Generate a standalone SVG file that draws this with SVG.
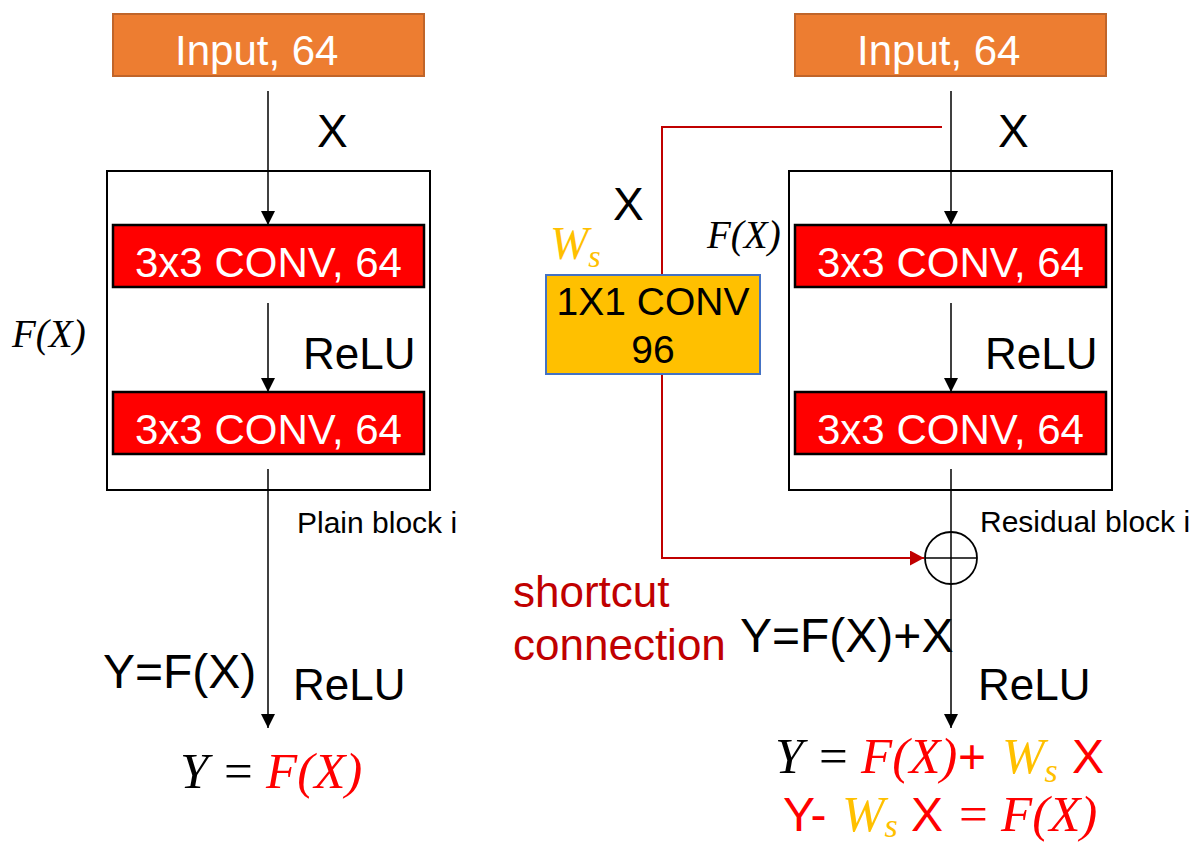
<svg xmlns="http://www.w3.org/2000/svg" width="1202" height="842" viewBox="0 0 1202 842">
<defs>
<style>
.sans{font-family:"Liberation Sans",Arial,sans-serif}
.math{font-family:"Liberation Serif","Times New Roman",serif;font-style:italic}
.mathup{font-family:"Liberation Serif","Times New Roman",serif}
.input{fill:#ED7D31;stroke:#C0652A;stroke-width:2}
.conv{fill:#FF0000;stroke:#000;stroke-width:2.5}
.outer{fill:none;stroke:#000;stroke-width:2}
.wtxt{fill:#fff;font-size:42px}
.line{stroke:#000;stroke-width:1.5;fill:none}
.red{stroke:#C00000;stroke-width:2;fill:none}
</style>
<marker id="ah" markerWidth="14" markerHeight="14" refX="14" refY="7" orient="auto" markerUnits="userSpaceOnUse">
<path d="M0,0 L14,7 L0,14 z" fill="#000"/>
</marker>
<marker id="ahr" markerWidth="15" markerHeight="15" refX="14" refY="7.5" orient="auto" markerUnits="userSpaceOnUse">
<path d="M0,0 L14,7.5 L0,15 z" fill="#C00000"/>
</marker>
</defs>
<rect width="1202" height="842" fill="#fff"/>

<g id="connectors">
<line class="line" x1="268" y1="91" x2="268" y2="225" marker-end="url(#ah)"/>
<line class="line" x1="268" y1="303" x2="268" y2="392" marker-end="url(#ah)"/>
<line class="line" x1="268" y1="469" x2="268" y2="728" marker-end="url(#ah)"/>
<line class="line" x1="951" y1="91" x2="951" y2="225" marker-end="url(#ah)"/>
<line class="line" x1="951" y1="303" x2="951" y2="392" marker-end="url(#ah)"/>
<line class="line" x1="951" y1="469" x2="951" y2="728" marker-end="url(#ah)"/>
<polyline class="red" points="942,127 662,127 662,558 924,558" marker-end="url(#ahr)"/>
</g>

<g id="plain-input">
<rect class="input" x="113" y="14" width="311" height="62"/>
<text class="sans wtxt" x="175" y="65" font-size="41">Input, 64</text>
</g>
<g id="plain-block">
<rect class="outer" x="107" y="171" width="323" height="319"/>
</g>
<g id="plain-conv1">
<rect class="conv" x="113" y="225" width="311" height="62"/>
<text class="sans wtxt" x="135" y="277">3x3 CONV, 64</text>
</g>
<g id="plain-conv2">
<rect class="conv" x="113" y="392" width="311" height="62"/>
<text class="sans wtxt" x="135" y="444">3x3 CONV, 64</text>
</g>

<g id="res-input">
<rect class="input" x="795" y="14" width="311" height="62"/>
<text class="sans wtxt" x="857" y="65" font-size="41">Input, 64</text>
</g>
<g id="res-block">
<rect class="outer" x="789" y="171" width="323" height="319"/>
</g>
<g id="res-conv1">
<rect class="conv" x="795" y="225" width="311" height="62"/>
<text class="sans wtxt" x="817" y="277">3x3 CONV, 64</text>
</g>
<g id="res-conv2">
<rect class="conv" x="795" y="392" width="311" height="62"/>
<text class="sans wtxt" x="817" y="444">3x3 CONV, 64</text>
</g>
<g id="shortcut-conv">
<rect x="546" y="275" width="214" height="99" fill="#FFC000" stroke="#4472C4" stroke-width="2"/>
<text class="sans" x="653" y="315" font-size="39" text-anchor="middle" fill="#000">1X1 CONV</text>
<text class="sans" x="653" y="363" font-size="39" text-anchor="middle" fill="#000">96</text>
</g>
<g id="sum">
<circle cx="951" cy="558" r="26" fill="none" stroke="#000" stroke-width="1.8"/>
<line class="line" x1="925" y1="558" x2="977" y2="558"/>
</g>

<g id="labels">
<text class="sans" x="317" y="147" font-size="46">X</text>
<text class="sans" x="303" y="369" font-size="44">ReLU</text>
<text class="math" x="12" y="347" font-size="39">F(X)</text>
<text class="sans" x="297" y="533" font-size="30">Plain block i</text>
<text class="sans" x="103" y="688" font-size="48">Y=F(X)</text>
<text class="sans" x="293" y="700" font-size="44">ReLU</text>
<text font-size="51" y="788"><tspan class="math" x="180" fill="#000">Y</tspan><tspan class="mathup" x="224" fill="#000">=</tspan><tspan class="math" x="266" fill="#FF0000">F(X)</tspan></text>

<text class="sans" x="998" y="147" font-size="46">X</text>
<text class="sans" x="613" y="220" font-size="46">X</text>
<text class="math" x="550" y="259" font-size="46" fill="#FFC000">W<tspan font-size="32" dy="8">s</tspan></text>
<text class="math" x="707" y="248" font-size="39">F(X)</text>
<text class="sans" x="985" y="369" font-size="44">ReLU</text>
<text class="sans" x="980" y="532" font-size="30">Residual block i</text>
<text class="sans" x="513" y="607" font-size="44" fill="#C00000">shortcut</text>
<text class="sans" x="513" y="660" font-size="44" fill="#C00000">connection</text>
<text class="sans" x="740" y="652" font-size="48">Y=F(X)+X</text>
<text class="sans" x="978" y="700" font-size="44">ReLU</text>

<text font-size="51" y="773"><tspan class="math" x="775" fill="#000">Y</tspan><tspan class="mathup" x="819" fill="#000">=</tspan><tspan class="math" x="861" fill="#FF0000">F(X)</tspan><tspan class="sans" x="958" font-size="48" fill="#FF0000">+</tspan><tspan class="math" x="1002" fill="#FFC000">W</tspan><tspan class="math" font-size="34" dy="9" fill="#FFC000">s</tspan><tspan class="sans" x="1072" dy="-9" font-size="48" fill="#FF0000">X</tspan></text>
<text font-size="51" y="831"><tspan class="sans" x="783" font-size="48" fill="#FF0000">Y-</tspan><tspan class="math" x="842" fill="#FFC000">W</tspan><tspan class="math" font-size="34" dy="6" fill="#FFC000">s</tspan><tspan class="sans" x="911" dy="-6" font-size="48" fill="#FF0000">X</tspan><tspan class="mathup" x="959" fill="#FF0000">=</tspan><tspan class="math" x="1001" fill="#FF0000">F(X)</tspan></text>
</g>
</svg>
